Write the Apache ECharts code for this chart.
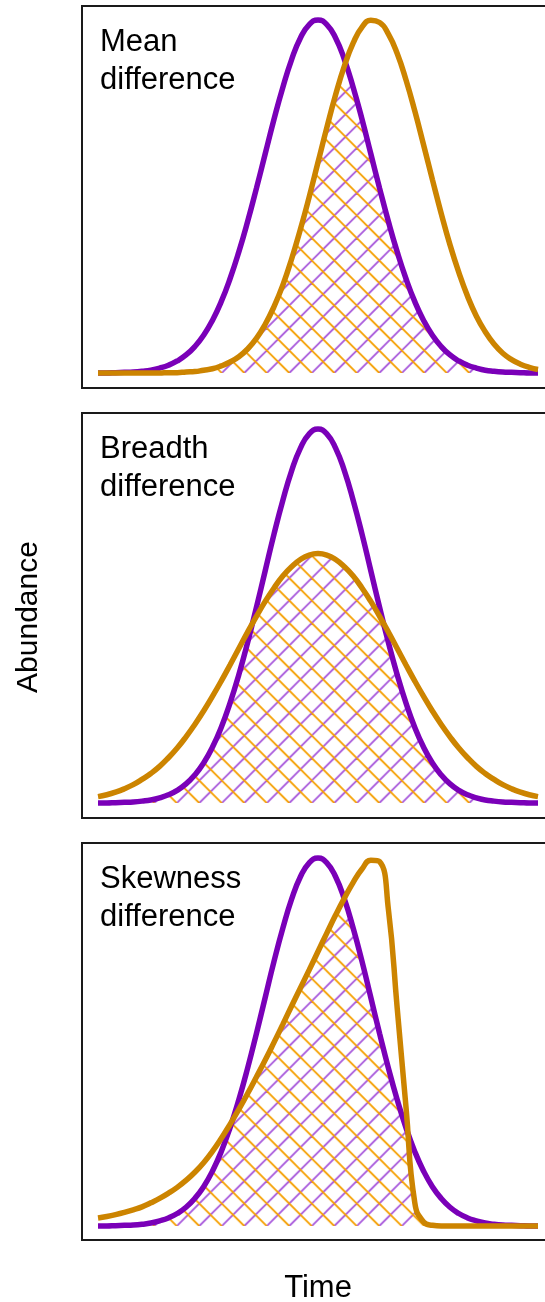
<!DOCTYPE html>
<html>
<head>
<meta charset="utf-8">
<title>Abundance curves</title>
<script src="https://cdn.jsdelivr.net/npm/echarts@6/dist/echarts.min.js"></script>
<style>
  html, body { margin: 0; padding: 0; background: #fff; overflow: hidden; }
  /* a bit wider than the window: the right edge of the frames is cut off like in the original */
  #charts { width: 560px; height: 1302px; }
</style>
</head>
<body>
<div id="charts"></div>
<script>
  // time axis (arbitrary units)
  var time = [0, 2, 4, 6, 8, 10, 12, 14, 16, 18, 20, 22, 24, 26, 28, 30, 32, 34, 36, 38, 40, 42, 44, 46, 48,
    50, 52, 54, 56, 58, 60, 62, 64, 66, 68, 70, 72, 74, 76, 78, 80, 82, 84, 86, 88, 90, 92, 94, 96, 98, 100];

  // purple curve, same in all three panels
  var purple = [0.000, 0.000, 0.001, 0.002, 0.003, 0.005, 0.008, 0.014, 0.022, 0.034, 0.051, 0.075, 0.107,
    0.149, 0.202, 0.267, 0.343, 0.429, 0.523, 0.621, 0.719, 0.809, 0.888, 0.949, 0.987, 1.000,
    0.987, 0.949, 0.888, 0.809, 0.719, 0.621, 0.523, 0.429, 0.343, 0.267, 0.202, 0.149, 0.107,
    0.075, 0.051, 0.034, 0.022, 0.014, 0.008, 0.005, 0.003, 0.002, 0.001, 0.000, 0.000];

  // orange curves
  var orangeMean = [0.000, 0.000, 0.000, 0.000, 0.000, 0.000, 0.000, 0.000, 0.001, 0.001, 0.003, 0.004, 0.008,
    0.012, 0.020, 0.031, 0.046, 0.068, 0.098, 0.138, 0.188, 0.249, 0.323, 0.407, 0.499, 0.597,
    0.695, 0.788, 0.870, 0.935, 0.980, 0.999, 0.993, 0.960, 0.905, 0.830, 0.742, 0.646, 0.548,
    0.452, 0.363, 0.285, 0.217, 0.161, 0.117, 0.082, 0.056, 0.038, 0.025, 0.016, 0.010];

  var orangeBreadth = [0.017, 0.022, 0.029, 0.038, 0.049, 0.063, 0.079, 0.098, 0.121, 0.147, 0.177, 0.210, 0.246,
    0.285, 0.326, 0.369, 0.413, 0.457, 0.499, 0.539, 0.575, 0.607, 0.632, 0.651, 0.663, 0.667,
    0.663, 0.651, 0.632, 0.607, 0.575, 0.539, 0.499, 0.457, 0.413, 0.369, 0.326, 0.285, 0.246,
    0.210, 0.177, 0.147, 0.121, 0.098, 0.079, 0.063, 0.049, 0.038, 0.029, 0.022, 0.017];

  var orangeSkew = [0.022, 0.026, 0.031, 0.037, 0.044, 0.052, 0.063, 0.075, 0.089, 0.105, 0.124, 0.146, 0.172,
    0.203, 0.238, 0.276, 0.317, 0.360, 0.405, 0.451, 0.499, 0.548, 0.598, 0.647, 0.696, 0.746,
    0.796, 0.845, 0.891, 0.934, 0.970, 0.994, 0.990, 0.860, 0.592, 0.323, 0.063, 0.011, 0.002,
    0.000, 0.000, 0.000, 0.000, 0.000, 0.000, 0.000, 0.000, 0.000, 0.000, 0.000, 0.000];

  var panelLabels = ['Mean\ndifference', 'Breadth\ndifference', 'Skewness\ndifference'];
  var secondCurves = [orangeMean, orangeBreadth, orangeSkew];

  var PURPLE = '#7a00b8';
  var ORANGE = '#cc8400';
  var FONT = '"Liberation Sans", Arial, Helvetica, sans-serif';

  // box positions in px, y range padded so the curves sit inside the frame
  var panels = [
    {top: 6, height: 382, min: -0.0425, max: 1.0397},
    {top: 413, height: 405, min: -0.0401, max: 1.0428},
    {top: 843, height: 397, min: -0.038, max: 1.0408}
  ];
  var gridLeft = 82, gridWidth = 470;
  var xMin = -3.64, xMax = 103.18;

  // cross hatch tile: purple "/" and orange "\" lines
  function hatchTile() {
    var s = 45, step = 22.5;
    var c = document.createElement('canvas');
    c.width = s;
    c.height = s;
    var ctx = c.getContext('2d');
    ctx.lineWidth = 1.9;
    ctx.strokeStyle = '#a95bdc';
    for (var k = 0; k <= 4; k++) {
      ctx.beginPath();
      ctx.moveTo(k * step, 0);
      ctx.lineTo(k * step - s, s);
      ctx.stroke();
    }
    ctx.strokeStyle = '#f5a000';
    for (var j = -2; j <= 2; j++) {
      ctx.beginPath();
      ctx.moveTo(j * step, 0);
      ctx.lineTo(j * step + s, s);
      ctx.stroke();
    }
    return c;
  }

  function pairs(vals) {
    return time.map(function (t, i) { return [t, vals[i]]; });
  }

  var tile = hatchTile();
  var grids = [], xAxes = [], yAxes = [], series = [], graphics = [];

  panels.forEach(function (p, i) {
    grids.push({
      left: gridLeft, top: p.top, width: gridWidth, height: p.height,
      show: true, borderColor: '#1a1a1a', borderWidth: 2, backgroundColor: '#fff'
    });
    xAxes.push({type: 'value', gridIndex: i, min: xMin, max: xMax, show: false});
    yAxes.push({type: 'value', gridIndex: i, min: p.min, max: p.max, show: false});

    var other = secondCurves[i];
    var overlap = purple.map(function (v, k) { return Math.min(v, other[k]); });
    var baseY = p.top + p.height * p.max / (p.max - p.min);

    series.push({
      type: 'line', xAxisIndex: i, yAxisIndex: i,
      data: pairs(overlap),
      smooth: true, symbol: 'none', silent: true,
      lineStyle: {width: 0, opacity: 0},
      areaStyle: {
        opacity: 1,
        color: {image: tile, repeat: 'repeat', x: 41.7, y: baseY}
      },
      z: 1
    });
    series.push({
      type: 'line', xAxisIndex: i, yAxisIndex: i,
      data: pairs(purple),
      smooth: true, symbol: 'none', silent: true,
      lineStyle: {color: PURPLE, width: 5.5},
      z: 2
    });
    series.push({
      type: 'line', xAxisIndex: i, yAxisIndex: i,
      data: pairs(other),
      smooth: true, symbol: 'none', silent: true,
      lineStyle: {color: ORANGE, width: 5.5},
      z: 3
    });

    graphics.push({
      type: 'text', left: 100, top: p.top + 17, z: 10,
      style: {text: panelLabels[i], fill: '#000', font: '31px ' + FONT, lineHeight: 38}
    });
  });

  // axis titles
  graphics.push({
    type: 'text', x: 29, y: 617, rotation: Math.PI / 2, z: 10,
    style: {text: 'Abundance', fill: '#000', font: '30px ' + FONT, align: 'center', verticalAlign: 'middle'}
  });
  graphics.push({
    type: 'text', x: 318, y: 1288, z: 10,
    style: {text: 'Time', fill: '#000', font: '31px ' + FONT, align: 'center', verticalAlign: 'middle'}
  });

  var myChart = echarts.init(document.getElementById('charts'));
  var option = {
    backgroundColor: '#fff',
    animation: false,
    grid: grids,
    xAxis: xAxes,
    yAxis: yAxes,
    series: series,
    graphic: graphics
  };
  myChart.setOption(option);
</script>
</body>
</html>
